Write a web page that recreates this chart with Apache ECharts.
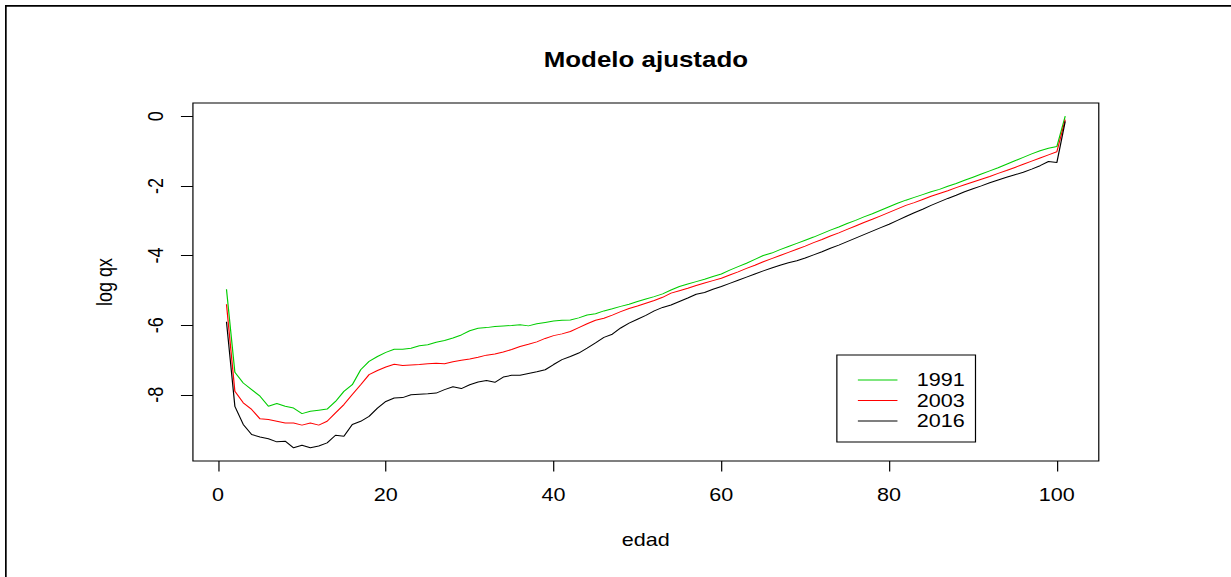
<!DOCTYPE html>
<html>
<head>
<meta charset="utf-8">
<script src="https://cdn.jsdelivr.net/npm/echarts@6/dist/echarts.min.js"></script>
<style>
  html, body { margin: 0; padding: 0; background: #fff; overflow: hidden; }
  #wrap { width: 1231px; height: 577px; overflow: hidden; position: relative; }
  /* the figure is laid out at 1026px and widened horizontally to 1231px */
  #chart { width: 1026px; height: 577px; transform: scaleX(1.19981); transform-origin: 0 0; }
</style>
</head>
<body>
<div id="wrap"><div id="chart"></div></div>
<script>
// ages (edad)
const ages = [
  1, 2, 3, 4, 5, 6, 7, 8, 9, 10,
  11, 12, 13, 14, 15, 16, 17, 18, 19, 20,
  21, 22, 23, 24, 25, 26, 27, 28, 29, 30,
  31, 32, 33, 34, 35, 36, 37, 38, 39, 40,
  41, 42, 43, 44, 45, 46, 47, 48, 49, 50,
  51, 52, 53, 54, 55, 56, 57, 58, 59, 60,
  61, 62, 63, 64, 65, 66, 67, 68, 69, 70,
  71, 72, 73, 74, 75, 76, 77, 78, 79, 80,
  81, 82, 83, 84, 85, 86, 87, 88, 89, 90,
  91, 92, 93, 94, 95, 96, 97, 98, 99, 100,
  101
];

// fitted log qx, 1991
const q1991 = [
  -4.97, -7.35, -7.66, -7.85, -8.04, -8.33, -8.25, -8.33, -8.38, -8.54,
  -8.47, -8.44, -8.41, -8.19, -7.90, -7.71, -7.28, -7.04, -6.90, -6.78,
  -6.69, -6.69, -6.66, -6.59, -6.56, -6.49, -6.44, -6.37, -6.28, -6.16,
  -6.09, -6.07, -6.04, -6.02, -6.01, -5.99, -6.02, -5.96, -5.92, -5.88,
  -5.86, -5.85, -5.79, -5.71, -5.67, -5.59, -5.53, -5.46, -5.40, -5.32,
  -5.25, -5.18, -5.10, -4.99, -4.89, -4.82, -4.75, -4.68, -4.60, -4.53,
  -4.42, -4.32, -4.22, -4.11, -4.00, -3.93, -3.83, -3.74, -3.65, -3.56,
  -3.47, -3.37, -3.27, -3.18, -3.08, -2.99, -2.89, -2.80, -2.70, -2.60,
  -2.50, -2.41, -2.33, -2.25, -2.17, -2.10, -2.01, -1.93, -1.84, -1.75,
  -1.66, -1.57, -1.48, -1.38, -1.28, -1.18, -1.08, -0.99, -0.92, -0.87,
  0.00
];

// fitted log qx, 2003
const q2003 = [
  -5.40, -7.90, -8.23, -8.42, -8.69, -8.71, -8.76, -8.81, -8.81, -8.87,
  -8.81, -8.87, -8.76, -8.52, -8.28, -7.99, -7.71, -7.42, -7.30, -7.20,
  -7.12, -7.16, -7.14, -7.13, -7.11, -7.09, -7.11, -7.05, -7.01, -6.97,
  -6.92, -6.86, -6.83, -6.77, -6.70, -6.61, -6.55, -6.48, -6.38, -6.30,
  -6.25, -6.18, -6.07, -5.96, -5.86, -5.80, -5.71, -5.61, -5.52, -5.45,
  -5.37, -5.29, -5.20, -5.08, -5.01, -4.94, -4.86, -4.79, -4.72, -4.65,
  -4.56, -4.47, -4.37, -4.28, -4.18, -4.09, -4.00, -3.91, -3.82, -3.73,
  -3.63, -3.54, -3.44, -3.35, -3.25, -3.15, -3.05, -2.96, -2.86, -2.76,
  -2.66, -2.56, -2.48, -2.39, -2.30, -2.22, -2.14, -2.05, -1.97, -1.89,
  -1.81, -1.73, -1.64, -1.56, -1.47, -1.38, -1.29, -1.20, -1.11, -1.02,
  -0.10
];

// fitted log qx, 2016
const q2016 = [
  -5.90, -8.33, -8.85, -9.14, -9.21, -9.26, -9.35, -9.33, -9.52, -9.45,
  -9.52, -9.47, -9.38, -9.16, -9.19, -8.85, -8.76, -8.62, -8.38, -8.19,
  -8.09, -8.08, -8.00, -7.98, -7.97, -7.95, -7.85, -7.77, -7.82, -7.71,
  -7.63, -7.59, -7.64, -7.49, -7.44, -7.44, -7.39, -7.34, -7.28, -7.13,
  -6.99, -6.90, -6.80, -6.66, -6.51, -6.35, -6.26, -6.08, -5.94, -5.83,
  -5.72, -5.59, -5.49, -5.42, -5.32, -5.22, -5.11, -5.06, -4.97, -4.89,
  -4.80, -4.71, -4.62, -4.53, -4.44, -4.36, -4.28, -4.21, -4.15, -4.07,
  -3.98, -3.89, -3.79, -3.70, -3.60, -3.50, -3.40, -3.30, -3.20, -3.10,
  -2.99, -2.88, -2.77, -2.67, -2.56, -2.46, -2.36, -2.27, -2.17, -2.08,
  -2.00, -1.91, -1.83, -1.75, -1.68, -1.61, -1.52, -1.42, -1.30, -1.33,
  -0.15
];

const seriesNames = ['1991', '2003', '2016'];
const seriesColors = ['#00CD00', '#FF0000', '#000000'];
const xTicks = [0, 20, 40, 60, 80, 100];
const yTicks = [-8, -6, -4, -2, 0];

const FONT = '"Liberation Sans", Arial, Helvetica, sans-serif';

const chart = echarts.init(document.getElementById('chart'), null, { renderer: 'svg' });

function pairs(vals) {
  return ages.map((a, i) => [a, vals[i]]);
}

const option = {
  animation: false,
  backgroundColor: '#ffffff',
  grid: {
    show: true,
    left: 160.8, right: 110.2, top: 103, bottom: 116,
    borderColor: '#000', borderWidth: 1,
    backgroundColor: 'transparent'
  },
  xAxis: {
    type: 'value',
    min: -3, max: 105,
    axisLine: { show: false, onZero: false },
    splitLine: { show: false },
    axisTick: { show: true, length: 10.5, customValues: xTicks, lineStyle: { color: '#000', width: 1 } },
    axisLabel: { customValues: xTicks, color: '#000', fontSize: 18, fontFamily: FONT, margin: 25 },
    name: 'edad',
    nameLocation: 'middle',
    nameGap: 70,
    nameTextStyle: { color: '#000', fontSize: 18, fontFamily: FONT }
  },
  yAxis: {
    type: 'value',
    min: -9.9, max: 0.38,
    axisLine: { show: false, onZero: false },
    splitLine: { show: false },
    axisTick: { show: true, length: 10, customValues: yTicks, lineStyle: { color: '#000', width: 1 } },
    axisLabel: { customValues: yTicks, rotate: 90, color: '#000', fontSize: 18, fontFamily: FONT, margin: 22 },
    name: 'log qx',
    nameLocation: 'middle',
    nameRotate: 90,
    nameGap: 64.5,
    nameTextStyle: { color: '#000', fontSize: 18, fontFamily: FONT }
  },
  legend: {
    data: seriesNames,
    orient: 'vertical',
    left: 697.5, top: 355,
    padding: [15, 9, 11, 17.5],
    itemGap: 0.5,
    icon: 'rect',
    itemWidth: 33, itemHeight: 1.2,
    selectedMode: false,
    borderColor: '#000', borderWidth: 1,
    backgroundColor: '#fff',
    textStyle: { color: '#000', fontSize: 18, fontFamily: FONT, lineHeight: 20, padding: [0, 0, 0, 11] }
  },
  graphic: [
    { type: 'rect', shape: { x: 4.17, y: 5, width: 1.42, height: 600 }, style: { fill: '#000' }, silent: true },
    { type: 'rect', shape: { x: 4.17, y: 5, width: 1100, height: 1.7 }, style: { fill: '#000' }, silent: true },
    {
      type: 'text', x: 538.3, y: 59, silent: true,
      style: { text: 'Modelo ajustado', fill: '#000', fontSize: 21.6, fontWeight: 'bold', fontFamily: FONT, align: 'center', verticalAlign: 'middle' }
    }
  ],
  series: [
    { name: seriesNames[0], type: 'line', data: pairs(q1991), symbol: 'none', color: seriesColors[0], lineStyle: { width: 1, color: seriesColors[0] } },
    { name: seriesNames[1], type: 'line', data: pairs(q2003), symbol: 'none', color: seriesColors[1], lineStyle: { width: 1, color: seriesColors[1] } },
    { name: seriesNames[2], type: 'line', data: pairs(q2016), symbol: 'none', color: seriesColors[2], lineStyle: { width: 1, color: seriesColors[2] } }
  ]
};

chart.setOption(option);
</script>
</body>
</html>
